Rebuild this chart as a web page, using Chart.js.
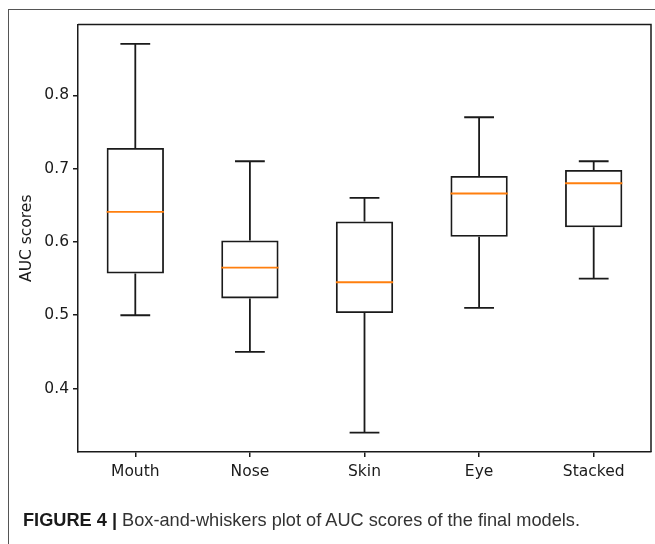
<!DOCTYPE html>
<html>
<head>
<meta charset="utf-8">
<script src="https://cdn.jsdelivr.net/npm/chart.js@4"></script>
<style>
  html, body { margin: 0; padding: 0; background: #fff; }
  #wrap { position: relative; width: 655px; height: 544px; overflow: hidden; }
  #frame {
    position: absolute; left: 8px; top: 9px; width: 660px; height: 560px;
    border-left: 1.5px solid #555; border-top: 1.5px solid #555;
  }
  #chart { position: absolute; left: 0; top: 0; }
  #caption {
    position: absolute; left: 23px; top: 510px; white-space: nowrap;
    font-family: "Liberation Sans", Arial, sans-serif; font-size: 18.2px; color: #333;
  }
  #caption b { color: #1a1a1a; }
</style>
</head>
<body>
<div id="wrap">
  <div id="frame"></div>
  <canvas id="chart" width="655" height="544"></canvas>
  <div id="caption"><b>FIGURE 4 |</b> Box-and-whiskers plot of AUC scores of the final models.</div>
</div>
<script>
const categories = ['Mouth', 'Nose', 'Skin', 'Eye', 'Stacked'];
const whiskerLow = [0.50, 0.45, 0.34, 0.51, 0.55];
const quartile1 = [0.557, 0.523, 0.503, 0.607, 0.620];
const medians = [0.641, 0.565, 0.545, 0.666, 0.680];
const quartile3 = [0.728, 0.602, 0.628, 0.690, 0.698];
const whiskerHigh = [0.87, 0.71, 0.66, 0.77, 0.71];
const yTicks = [0.4, 0.5, 0.6, 0.7, 0.8];

const labelFont = { family: '"DejaVu Sans", sans-serif', size: 15.5 };
const ink = '#1a1a1a';

// whiskers, caps, medians and the top/right spines
const boxExtras = {
    id: 'boxExtras',
    afterDatasetsDraw(chart) {
        const ctx = chart.ctx;
        const xs = chart.scales.x;
        const ys = chart.scales.y;
        const bars = chart.getDatasetMeta(0).data;
        const step = xs.getPixelForValue(1) - xs.getPixelForValue(0);
        const capW = step * 0.26;
        ctx.save();
        ctx.lineCap = 'butt';
        categories.forEach((c, i) => {
            const x = xs.getPixelForValue(i);
            const half = bars[i].width / 2;
            ctx.strokeStyle = ink;
            ctx.lineWidth = 1.8;
            ctx.beginPath();
            ctx.moveTo(x, ys.getPixelForValue(quartile3[i]));
            ctx.lineTo(x, ys.getPixelForValue(whiskerHigh[i]));
            ctx.moveTo(x, ys.getPixelForValue(quartile1[i]));
            ctx.lineTo(x, ys.getPixelForValue(whiskerLow[i]));
            ctx.moveTo(x - capW / 2, ys.getPixelForValue(whiskerHigh[i]));
            ctx.lineTo(x + capW / 2, ys.getPixelForValue(whiskerHigh[i]));
            ctx.moveTo(x - capW / 2, ys.getPixelForValue(whiskerLow[i]));
            ctx.lineTo(x + capW / 2, ys.getPixelForValue(whiskerLow[i]));
            ctx.stroke();
            ctx.strokeStyle = '#ff7f0e';
            ctx.beginPath();
            ctx.moveTo(x - half, ys.getPixelForValue(medians[i]));
            ctx.lineTo(x + half, ys.getPixelForValue(medians[i]));
            ctx.stroke();
        });
        const a = chart.chartArea;
        ctx.strokeStyle = ink;
        ctx.lineWidth = 1.5;
        ctx.beginPath();
        ctx.moveTo(a.left, a.top);
        ctx.lineTo(a.right, a.top);
        ctx.lineTo(a.right, a.bottom);
        ctx.stroke();
        ctx.restore();
    }
};

new Chart(document.getElementById('chart'), {
    type: 'bar',
    data: {
        labels: categories,
        datasets: [{
            data: categories.map((c, i) => [quartile1[i], quartile3[i]]),
            backgroundColor: 'rgba(0,0,0,0)',
            borderColor: ink,
            borderWidth: 1.8,
            borderSkipped: false,
            categoryPercentage: 1,
            barPercentage: 0.5
        }]
    },
    options: {
        responsive: false,
        animation: false,
        layout: { padding: { top: 24.5, right: 4, bottom: 0, left: 0 } },
        plugins: { legend: { display: false }, tooltip: { enabled: false } },
        scales: {
            x: {
                grid: { offset: false, drawOnChartArea: false, drawTicks: true, tickLength: 5, color: ink, lineWidth: 1.5 },
                border: { display: true, color: ink, width: 1.5 },
                ticks: { font: labelFont, color: ink, padding: 6, maxRotation: 0 },
                afterFit: scale => { scale.height = 92; }
            },
            y: {
                min: 0.3135,
                max: 0.8965,
                afterBuildTicks: scale => { scale.ticks = yTicks.map(v => ({ value: v })); },
                grid: { drawOnChartArea: false, drawTicks: true, tickLength: 5, color: ink, lineWidth: 1.5 },
                border: { display: true, color: ink, width: 1.5 },
                ticks: { font: labelFont, color: ink, padding: 4, callback: v => v.toFixed(1) },
                title: { display: true, text: 'AUC scores', font: labelFont, color: ink, padding: { top: 18, bottom: 0 } },
                afterFit: scale => { scale.width = 78; }
            }
        }
    },
    plugins: [boxExtras]
});
</script>
</body>
</html>
